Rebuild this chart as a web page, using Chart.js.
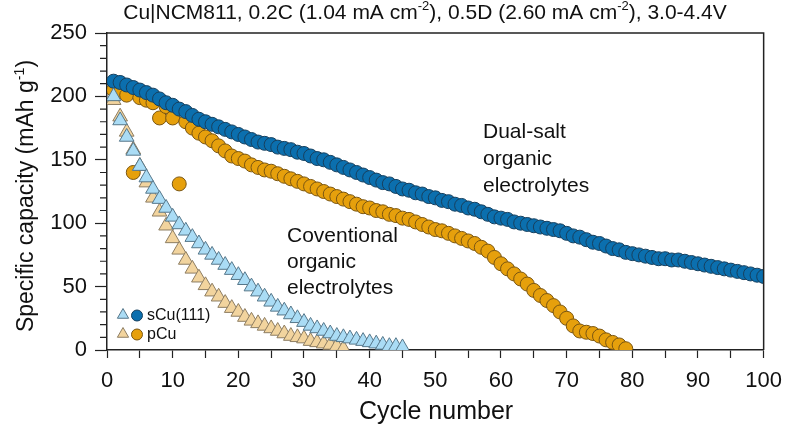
<!DOCTYPE html>
<html><head><meta charset="utf-8">
<script src="https://cdn.jsdelivr.net/npm/chart.js@4.4.1/dist/chart.umd.min.js"></script>
<style>html,body{margin:0;padding:0;background:#fff}#wrap{width:788px;height:429px;position:relative}</style>
</head><body><div id="wrap"><canvas id="c"></canvas></div>
<script>
// ---- data ----
const sCuDual = [212,211,209,207,205,203,201,198,195,193,190,188,185,182,180,178,176,174,172,170,
  168,166,164,163,162,160,159,158,156,155,153,151,150,148,146,144,142,140,138,136,
  134,132,131,129,127,126,124,123,121,120,118,117,115,114,112,111,109,107,105,104,
  103,101,100,99,98,97,96,95,94,92,90,89,87,85,84,82,80,79,77,76,
  75,74,73,72,72,71,71,70,69,68,67,66,65,64,63,62,61,60,59,58];
const pCuDual = [205,204,201,140,199,197,195,183,192,183,131,180,175,171,168,165,161,157,153,151,
  149,146,144,142,141,139,137,135,133,131,129,127,125,123,121,119,117,115,113,112,
  110,109,107,106,104,103,101,99,97,95,94,92,90,88,86,84,81,78,73,68,
  64,60,56,52,47,43,39,35,30,25,19,15,14,13,11,8,6,4,1];
const sCuConv = [200,181,168,157,145,136,127,119,112,105,99,94,89,84,79,75,71,67,63,59,
  55,50,46,42,38,34,31,28,25,22,19,17,15,13,11,10,9,8,7,6,5,4,3,3,2];
const pCuConv = [197,184,172,158,145,132,120,109,98,88,79,71,64,57,51,46,42,37,33,30,
  26,23,21,19,17,15,13,11,10,9,7,6,5,4,3,1];
const xTickLabels = [0,10,20,30,40,50,60,70,80,90,100];
const yTickLabels = [0,50,100,150,200,250];
const seriesNames = ['sCu(111)','pCu'];

const toPts = arr => arr.map((v,i)=>({x:i+1,y:v}));

const FONT = "'Liberation Sans', Arial, sans-serif";
const C = {
  blue:'#0b6fae', blueB:'#17405e',
  orange:'#e6a00c', orangeB:'#7a5612',
  lblue:'#aadcf5', lblueB:'#56778a',
  tan:'#f2d49e', tanB:'#8d7d62'
};

function drawRich(ctx, segs, x, y, size, family, align){
  let w = 0;
  segs.forEach(s=>{ ctx.font = (s.sup? size*0.62 : size)+'px '+family; s.w = ctx.measureText(s.t).width; w += s.w; });
  let cx = align==='center' ? x - w/2 : (align==='right' ? x - w : x);
  ctx.textAlign='left'; ctx.textBaseline='middle';
  segs.forEach(s=>{
    ctx.font = (s.sup? size*0.62 : size)+'px '+family;
    ctx.fillText(s.t, cx, s.sup ? y - size*0.32 : y);
    cx += s.w;
  });
}

const decor = {
  id:'decor',
  afterDraw(chart){
    const ctx = chart.ctx, a = chart.chartArea;
    const ys = chart.scales.y;
    ctx.save();
    ctx.strokeStyle='#222'; ctx.lineWidth=1.5;
    ctx.beginPath();
    ctx.moveTo(a.left, a.top); ctx.lineTo(a.right, a.top); ctx.lineTo(a.right, a.bottom);
    ctx.stroke();
    ctx.lineWidth=1.2;
    ctx.beginPath();
    for(let v=0; v<=250; v+=10){ if(v%50===0) continue; const py=ys.getPixelForValue(v); ctx.moveTo(a.left-7,py); ctx.lineTo(a.left,py); }
    ctx.stroke();
    ctx.fillStyle='#111';
    drawRich(ctx,[{t:'Cu|NCM811, 0.2C (1.04 mA cm'},{t:'-2',sup:true},{t:'), 0.5D (2.60 mA cm'},{t:'-2',sup:true},{t:'), 3.0-4.4V'}], 425, 13, 21, FONT, 'center');
    ctx.font='25px '+FONT; ctx.textAlign='center'; ctx.textBaseline='middle';
    ctx.fillText('Cycle number', 436, 412);
    ctx.save(); ctx.translate(27, 196); ctx.rotate(-Math.PI/2);
    drawRich(ctx,[{t:'Specific capacity (mAh g'},{t:'-1',sup:true},{t:')'}], 0, 0, 23, FONT, 'center');
    ctx.restore();
    ctx.font='21px '+FONT; ctx.textAlign='left'; ctx.textBaseline='middle';
    ['Dual-salt','organic','electrolytes'].forEach((t,i)=>ctx.fillText(t, 483, 132+i*27));
    ['Coventional','organic','electrolytes'].forEach((t,i)=>ctx.fillText(t, 287, 236+i*26));
    const rows = [[C.lblue,C.lblueB,C.blue,C.blueB],[C.tan,C.tanB,C.orange,C.orangeB]];
    rows.forEach((r,i)=>{
      const cy = 315 + i*19;
      const tx = 123, tr = 6.5;
      ctx.beginPath();
      ctx.moveTo(tx, cy - tr); ctx.lineTo(tx + tr*0.866, cy + tr*0.5); ctx.lineTo(tx - tr*0.866, cy + tr*0.5); ctx.closePath();
      ctx.fillStyle=r[0]; ctx.fill(); ctx.strokeStyle=r[1]; ctx.lineWidth=1; ctx.stroke();
      ctx.beginPath(); ctx.arc(137, cy+0.5, 5.5, 0, Math.PI*2);
      ctx.fillStyle=r[2]; ctx.fill(); ctx.strokeStyle=r[3]; ctx.stroke();
      ctx.fillStyle='#111'; ctx.font='16px '+FONT; ctx.textAlign='left'; ctx.textBaseline='middle';
      ctx.fillText(seriesNames[i], 147, cy+1);
    });
    ctx.restore();
  }
};

new Chart(document.getElementById('c'), {
  type:'scatter',
  data:{datasets:[
    {label:seriesNames[0]+' conv', data:toPts(sCuConv), pointStyle:'triangle', pointRadius:8.5, backgroundColor:C.lblue, borderColor:C.lblueB, borderWidth:1},
    {label:seriesNames[1]+' conv', data:toPts(pCuConv), pointStyle:'triangle', pointRadius:8.5, backgroundColor:C.tan, borderColor:C.tanB, borderWidth:1},
    {label:seriesNames[0]+' dual', data:toPts(sCuDual), pointStyle:'circle', pointRadius:7, backgroundColor:C.blue, borderColor:C.blueB, borderWidth:1},
    {label:seriesNames[1]+' dual', data:toPts(pCuDual), pointStyle:'circle', pointRadius:7, backgroundColor:C.orange, borderColor:C.orangeB, borderWidth:1}
  ]},
  options:{
    responsive:true, maintainAspectRatio:false, animation:false,
    layout:{padding:{top:33,right:24,left:0,bottom:0}},
    plugins:{legend:{display:false}, tooltip:{enabled:false}},
    elements:{point:{hoverRadius:7}},
    scales:{
      x:{type:'linear', min:0, max:100,
        afterFit(s){ s.height = 79; },
        afterBuildTicks(s){ const t=[]; for(let v=0;v<=100;v+=5) t.push({value:v}); s.ticks=t; },
        ticks:{autoSkip:false, maxRotation:0, padding:6, color:'#111', font:{family:FONT,size:22,lineHeight:1.55},
          callback:v=> xTickLabels.includes(v) ? String(v) : ''},
        grid:{drawOnChartArea:false, drawTicks:true, tickLength:8, tickColor:'#222', tickWidth:1.2},
        border:{display:true, color:'#222', width:1.5}
      },
      y:{type:'linear', min:0, max:250,
        afterFit(s){ s.width = 107; },
        afterBuildTicks(s){ s.ticks = yTickLabels.map(v=>({value:v})); },
        ticks:{autoSkip:false, padding:8, color:'#111', font:{family:FONT,size:22}, callback:v=>String(v)},
        grid:{drawOnChartArea:false, drawTicks:true, tickLength:12, tickColor:'#222', tickWidth:1.2},
        border:{display:true, color:'#222', width:1.5}
      }
    }
  },
  plugins:[decor]
});
</script></body></html>
